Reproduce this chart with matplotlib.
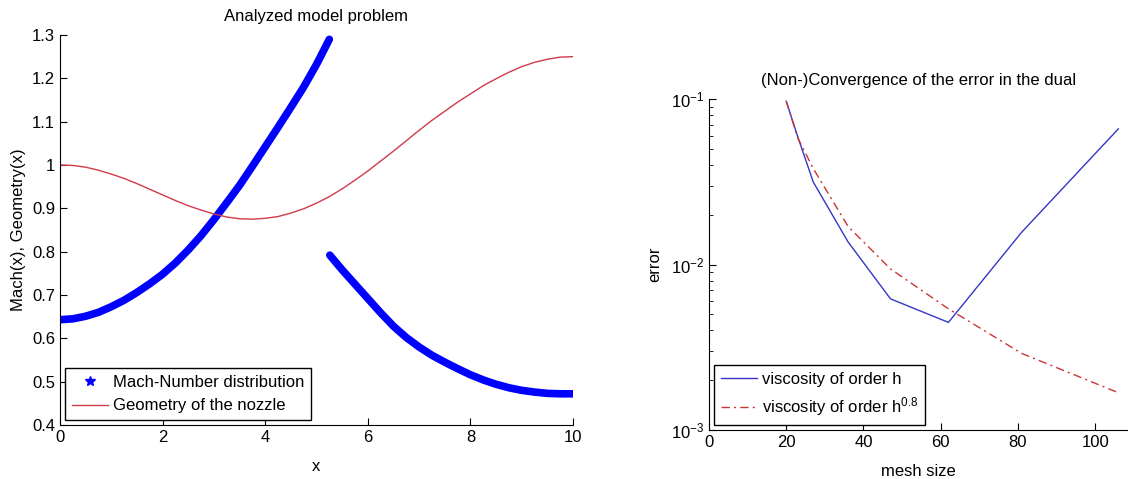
import matplotlib
matplotlib.use("Agg")
import matplotlib.pyplot as plt
from matplotlib.lines import Line2D

plt.rcParams['font.family'] = ['Liberation Sans', 'DejaVu Sans']
plt.rcParams['mathtext.fontset'] = 'custom'
plt.rcParams['mathtext.rm'] = 'Liberation Sans'
plt.rcParams['mathtext.it'] = 'Liberation Sans'
plt.rcParams['font.size'] = 12

# Left panel: Mach number (two branches around the shock) and nozzle geometry
mach_x_sub = [0.0, 0.25, 0.5, 0.75, 1.0, 1.25, 1.5, 1.75, 2.0, 2.25, 2.5,
              2.75, 3.0, 3.25, 3.5, 3.75, 4.0, 4.25, 4.5, 4.75, 5.0, 5.25]
mach_y_sub = [0.643, 0.645, 0.651, 0.660, 0.673, 0.688, 0.706, 0.726, 0.748, 0.774, 0.804,
              0.837, 0.874, 0.913, 0.953, 0.997, 1.042, 1.087, 1.133, 1.180, 1.232, 1.29]
mach_x_sup = [5.26, 5.5, 5.75, 6.0, 6.25, 6.5, 6.75, 7.0, 7.25, 7.5,
              7.75, 8.0, 8.25, 8.5, 8.75, 9.0, 9.25, 9.5, 9.75, 10.0]
mach_y_sup = [0.792, 0.758, 0.725, 0.692, 0.659, 0.628, 0.602, 0.580, 0.561, 0.545,
              0.530, 0.516, 0.504, 0.494, 0.486, 0.480, 0.476, 0.473, 0.472, 0.472]

geo_x = [0.0, 0.25, 0.5, 0.75, 1.0, 1.25, 1.5, 1.75, 2.0, 2.25, 2.5,
         2.75, 3.0, 3.25, 3.5, 3.75, 4.0, 4.25, 4.5, 4.75, 5.0,
         5.25, 5.5, 5.75, 6.0, 6.25, 6.5, 6.75, 7.0, 7.25, 7.5,
         7.75, 8.0, 8.25, 8.5, 8.75, 9.0, 9.25, 9.5, 9.75, 10.0]
geo_y = [1.0, 0.999, 0.995, 0.988, 0.979, 0.969, 0.957, 0.944, 0.931, 0.918, 0.906,
         0.896, 0.887, 0.880, 0.876, 0.875, 0.877, 0.881, 0.889, 0.899, 0.912,
         0.927, 0.945, 0.965, 0.986, 1.009, 1.032, 1.056, 1.080, 1.103, 1.124,
         1.145, 1.164, 1.183, 1.199, 1.214, 1.227, 1.237, 1.244, 1.249, 1.25]

# Right panel: error vs mesh size
mesh = [20, 23, 27, 36, 47, 62, 81, 106]
err_h = [0.097, 0.059, 0.0315, 0.0137, 0.0062, 0.00447, 0.0157, 0.066]
err_h08 = [0.097, 0.058, 0.038, 0.017, 0.0094, 0.0054, 0.0029, 0.00168]

fig = plt.figure(figsize=(11.28, 4.79), dpi=100)

# ---- left plot
ax1 = fig.add_axes([60 / 1128, 54 / 479, 513 / 1128, 390 / 479])
ax1.plot(mach_x_sub, mach_y_sub, color='#0000ff', lw=5.5, solid_capstyle='round')
ax1.plot(mach_x_sup, mach_y_sup, color='#0000ff', lw=5.5, solid_capstyle='round')
geo_line, = ax1.plot(geo_x, geo_y, color='#d03a4a', lw=1)
ax1.set_xlim(0, 10)
ax1.set_ylim(0.4, 1.3)
ax1.set_xticks([0, 2, 4, 6, 8, 10])
ax1.set_yticks([0.4, 0.5, 0.6, 0.7, 0.8, 0.9, 1.0, 1.1, 1.2, 1.3])
ax1.set_yticklabels(['0.4', '0.5', '0.6', '0.7', '0.8', '0.9', '1', '1.1', '1.2', '1.3'])
ax1.set_title('Analyzed model problem', fontsize=12, pad=10)
ax1.set_xlabel('x', labelpad=10)
ax1.set_ylabel('Mach(x), Geometry(x)', labelpad=4)
mach_handle = Line2D([], [], ls='none', marker='*', color='#0000ff', ms=7)
ax1.legend([mach_handle, geo_line], ['Mach-Number distribution', 'Geometry of the nozzle'],
           loc='lower left', fancybox=False, edgecolor='black', framealpha=1,
           borderaxespad=0.3, handlelength=2.2, handletextpad=0.3, fontsize=12)

# ---- right plot
ax2 = fig.add_axes([709 / 1128, 49 / 479, 419 / 1128, 331 / 479])
ax2.semilogy(mesh, err_h, color='#3535c8', lw=1, label='viscosity of order h')
ax2.semilogy(mesh, err_h08, color='#cc3333', lw=1, ls=(0, (6, 3, 1.5, 3)),
             label='viscosity of order h$^{0.8}$')
ax2.set_xlim(0, 108.5)
ax2.set_ylim(1e-3, 1e-1)
ax2.set_xticks([0, 20, 40, 60, 80, 100])
ax2.set_title('(Non-)Convergence of the error in the dual', fontsize=12, pad=10)
ax2.set_xlabel('mesh size', labelpad=10)
ax2.set_ylabel('error', labelpad=6)
ax2.legend(loc='lower left', fancybox=False, edgecolor='black', framealpha=1,
           borderaxespad=0.3, handlelength=2.2, handletextpad=0.3, fontsize=12)

for ax in (ax1, ax2):
    ax.spines['top'].set_visible(False)
    ax.spines['right'].set_visible(False)
    ax.tick_params(direction='in', length=5, which='major')
    ax.tick_params(direction='in', length=3, which='minor')

fig.savefig('out.png', dpi=100)
